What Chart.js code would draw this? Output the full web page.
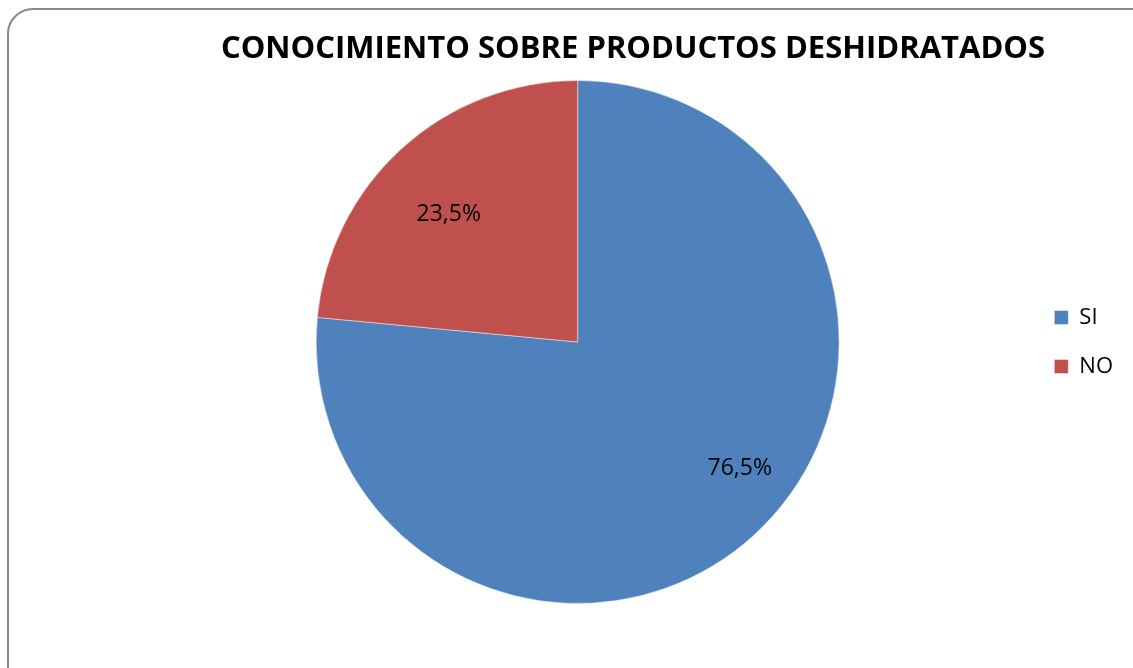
<!DOCTYPE html>
<html>
<head>
<meta charset="utf-8">
<title>Conocimiento sobre productos deshidratados</title>
<script src="https://cdn.jsdelivr.net/npm/chart.js@4.4.1/dist/chart.umd.min.js"></script>
<style>
    html, body { margin: 0; padding: 0; background: #fff; overflow: hidden; }
    #wrap { position: relative; width: 1133px; height: 668px; overflow: hidden; }
    #frame {
        position: absolute; left: 7px; top: 8px;
        width: 1160px; height: 690px;
        border: 2px solid #898989; border-radius: 26px;
        box-sizing: border-box;
    }
    #myChart { position: absolute; left: 0; top: 0; }
</style>
</head>
<body>
<div id="wrap">
    <div id="frame"></div>
    <canvas id="myChart" width="1133" height="668"></canvas>
</div>
<script>
var chartTitle = 'CONOCIMIENTO SOBRE PRODUCTOS DESHIDRATADOS';
var categories = ['SI', 'NO'];
var percentages = [76.5, 23.5];
var sliceColors = ['#4F81BD', '#C0504D'];

// where each value label sits inside its slice
var labelRadius = [0.787, 0.694];
var labelSweep = 0.465;

var FONT = "'Open Sans', 'DejaVu Sans', sans-serif";

// title is drawn by hand so it can sit off-centre like the original sheet
var titlePlugin = {
    id: 'titlePlugin',
    afterDraw: function(chart) {
        var ctx = chart.ctx;
        ctx.save();
        ctx.font = 'bold 31px ' + FONT;
        ctx.fillStyle = '#000';
        ctx.textAlign = 'center';
        ctx.textBaseline = 'alphabetic';
        ctx.fillText(chartTitle, 633, 58);
        ctx.restore();
    }
};

var sliceLabels = {
    id: 'sliceLabels',
    afterDatasetsDraw: function(chart) {
        var ctx = chart.ctx;
        var meta = chart.getDatasetMeta(0);
        ctx.save();
        ctx.font = '23px ' + FONT;
        ctx.fillStyle = '#000';
        ctx.textAlign = 'center';
        ctx.textBaseline = 'middle';
        meta.data.forEach(function(arc, i) {
            var ang = arc.startAngle + (arc.endAngle - arc.startAngle) * labelSweep;
            var r = arc.outerRadius * labelRadius[i];
            var x = arc.x + Math.cos(ang) * r;
            var y = arc.y + Math.sin(ang) * r;
            var txt = percentages[i].toFixed(1).replace('.', ',') + '%';
            ctx.fillText(txt, x, y);
        });
        ctx.restore();
    }
};

var myChart;

function init_chart() {
    var ctx = document.getElementById('myChart').getContext('2d');

    const data = {
        labels: categories,
        datasets: [{
            data: percentages,
            backgroundColor: sliceColors,
            borderColor: 'rgba(255,255,255,0.45)',
            borderWidth: 1
        }]
    };

    const config = {
        type: 'pie',
        data: data,
        plugins: [sliceLabels, titlePlugin],
        options: {
            responsive: false,
            animation: false,
            devicePixelRatio: 1,
            layout: { padding: { left: 128, right: 10, top: 80, bottom: 64 } },
            plugins: {
                title: { display: false },
                legend: {
                    position: 'right',
                    labels: {
                        color: '#000',
                        font: { family: FONT, size: 22 },
                        boxWidth: 14,
                        boxHeight: 14,
                        padding: 27
                    }
                },
                tooltip: { enabled: false }
            }
        }
    };

    myChart = new Chart(ctx, config);
}

init_chart();
</script>
</body>
</html>
